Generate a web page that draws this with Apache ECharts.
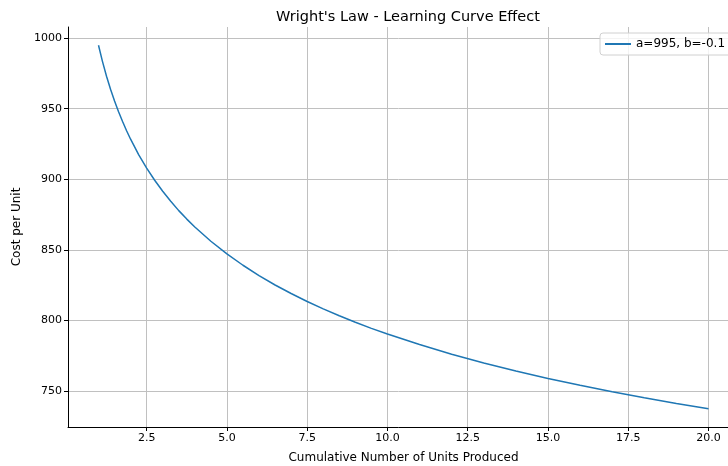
<!DOCTYPE html>
<html><head><meta charset="utf-8">
<script src="https://cdn.jsdelivr.net/npm/echarts@6/dist/echarts.min.js"></script>
<style>html,body{margin:0;padding:0;background:#fff}#c{width:728px;height:466px}</style>
</head><body><div id="c"></div>
<script>
const units = [1, 1.125, 1.25, 1.375, 1.5, 1.625, 1.75, 1.875, 2, 2.25, 2.5, 2.75, 3, 3.25, 3.5, 3.75, 4, 4.5, 5, 5.5, 6, 6.5, 7, 7.5, 8, 8.5, 9, 9.5, 10, 11, 12, 13, 14, 15, 16, 17, 18, 19, 20];
const cost = [995, 983.4, 973.0, 963.8, 955.5, 947.8, 940.9, 934.4, 928.4, 917.5, 907.9, 899.3, 891.5, 884.4, 877.8, 871.8, 866.2, 856.1, 847.1, 839.1, 831.8, 825.1, 819.1, 813.4, 808.2, 803.3, 798.7, 794.4, 790.4, 782.9, 776.1, 769.9, 764.2, 758.9, 754.1, 749.5, 745.2, 741.2, 737.4];
const xTicks = [2.5, 5, 7.5, 10, 12.5, 15, 17.5, 20];
const yTicks = [750, 800, 850, 900, 950, 1000];
const seriesName = 'a=995, b=-0.1';

const font = 'DejaVu Sans';
const chart = echarts.init(document.getElementById('c'), null, {renderer: 'canvas'});
chart.setOption({
  animation: false,
  title: {
    text: "Wright's Law - Learning Curve Effect",
    left: 403, top: 5, textAlign: 'center',
    textStyle: {fontFamily: font, fontSize: 14.5, fontWeight: 'normal', color: '#000'}
  },
  legend: {
    data: [seriesName],
    left: 600, top: 33,
    padding: [5, 8, 5, 5],
    itemWidth: 26, itemHeight: 2, itemGap: 8,
    borderColor: '#d0d0d0', borderWidth: 1, borderRadius: 3,
    backgroundColor: 'rgba(255,255,255,0.8)',
    icon: 'rect',
    textStyle: {fontFamily: font, fontSize: 12, color: '#000'}
  },
  grid: {left: 68, top: 27, width: 671, height: 400, containLabel: false, outerBoundsMode: 'none'},
  xAxis: {
    type: 'value', min: 0.05, max: 20.95,
    name: 'Cumulative Number of Units Produced', nameLocation: 'middle', nameGap: 25,
    nameTextStyle: {fontFamily: font, fontSize: 12, color: '#000'},
    axisLine: {show: true, onZero: false, lineStyle: {color: '#000', width: 1}},
    axisTick: {show: true, length: 4, lineStyle: {color: '#000'}, customValues: xTicks},
    axisLabel: {fontFamily: font, fontSize: 11, color: '#000', margin: 6, customValues: xTicks,
      formatter: v => v.toFixed(1)},
    splitLine: {show: true, lineStyle: {color: '#c0c0c0', width: 1}}
  },
  yAxis: {
    type: 'value', min: 724.5, max: 1007.9,
    name: 'Cost per Unit', nameLocation: 'middle', nameGap: 42, nameRotate: 90,
    nameTextStyle: {fontFamily: font, fontSize: 12, color: '#000'},
    axisLine: {show: true, lineStyle: {color: '#000', width: 1}},
    axisTick: {show: true, length: 4, lineStyle: {color: '#000'}, customValues: yTicks},
    axisLabel: {fontFamily: font, fontSize: 11, color: '#000', margin: 6, customValues: yTicks,
      formatter: v => String(v)},
    splitLine: {show: true, lineStyle: {color: '#c0c0c0', width: 1}}
  },
  series: [{
    name: seriesName, type: 'line',
    data: units.map((u, i) => [u, cost[i]]),
    smooth: false,
    showSymbol: false, symbol: 'none',
    lineStyle: {color: '#1f77b4', width: 1.5},
    itemStyle: {color: '#1f77b4'}
  }]
});
</script></body></html>
